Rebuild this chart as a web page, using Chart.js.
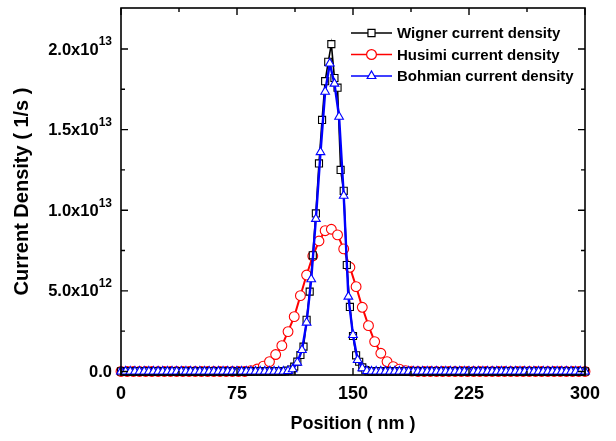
<!DOCTYPE html>
<html>
<head>
<meta charset="utf-8">
<script src="https://cdn.jsdelivr.net/npm/chart.js@4.4.0/dist/chart.umd.min.js"></script>
<style>
  html, body { margin: 0; padding: 0; background: #fff; }
  #wrap { width: 616px; height: 441px; position: relative; }
</style>
</head>
<body>
<div id="wrap"><canvas id="chart" width="616" height="441"></canvas></div>
<script>
// position in nm, current density in units of 1e12 (1/s)
const xTicks = [0, 75, 150, 225, 300];
const yTicks = [0, 5, 10, 15, 20];
const yMin = -0.22, yMax = 22.54;

// sampling step of each curve (nm); outside the peak window the value is 0
const wignerStep = 2;
const wignerPeakX = [108, 110, 112, 114, 116, 118, 120, 122, 124, 126, 128, 130, 132, 134, 136,
                     138, 140, 142, 144, 146, 148, 150, 152, 154, 156, 158];
const wignerPeakY = [0.05, 0.12, 0.3, 0.61, 1.02, 1.54, 3.2, 4.95, 7.2, 9.8, 12.9, 15.6, 18.0, 19.2, 20.3,
                     18.2, 17.6, 12.5, 11.2, 6.6, 4.0, 2.2, 1.0, 0.6, 0.25, 0.08];

const husimiStep = 4;
const husimiPeakX = [84, 88, 92, 96, 100, 104, 108, 112, 116, 120, 124, 128, 132, 136,
                     140, 144, 148, 152, 156, 160, 164, 168, 172, 176, 180, 184, 188];
const husimiPeakY = [0.05, 0.15, 0.33, 0.61, 1.05, 1.6, 2.47, 3.4, 4.7, 5.98, 7.16, 8.09, 8.73, 8.82,
                     8.47, 7.6, 6.46, 5.26, 3.98, 2.84, 1.85, 1.13, 0.61, 0.3, 0.14, 0.05, 0.02];

const bohmStep = 3;
const bohmPeakX = [108, 111, 114, 117, 120, 123, 126, 129, 132, 135, 138, 141, 144, 147, 150, 153, 156, 159];
const bohmPeakY = [0.03, 0.14, 0.55, 1.33, 3.03, 5.72, 9.46, 13.6, 17.35, 19.1, 17.85, 15.8, 10.9, 4.64,
                   2.26, 0.71, 0.2, 0.03];

const labels = ['Wigner current density', 'Husimi current density', 'Bohmian current density'];

function series(step, peakX, peakY) {
  const pts = [];
  for (let x = 0; x <= 300; x += step) {
    const i = peakX.indexOf(x);
    pts.push({ x: x, y: i >= 0 ? peakY[i] : 0 });
  }
  return pts;
}

function fmtY(v) {
  if (v === 0) return { main: '0.0', sup: '' };
  const real = v * 1e12;
  const exp = Math.floor(Math.log10(real));
  return { main: (real / Math.pow(10, exp)).toFixed(1) + 'x10', sup: String(exp) };
}

const frame = {
  id: 'frame',
  afterDatasetsDraw(chart) {
    const { ctx, chartArea: a, scales: { x, y } } = chart;
    ctx.save();
    ctx.strokeStyle = '#000';
    ctx.lineWidth = 1.6;
    ctx.strokeRect(a.left, a.top, a.right - a.left, a.bottom - a.top);

    // inward ticks on all four sides
    ctx.lineWidth = 1.4;
    ctx.beginPath();
    xTicks.forEach((t, i) => {
      const px = x.getPixelForValue(t);
      ctx.moveTo(px, a.bottom); ctx.lineTo(px, a.bottom - 7);
      ctx.moveTo(px, a.top); ctx.lineTo(px, a.top + 7);
      if (i < xTicks.length - 1) {
        const mx = x.getPixelForValue((t + xTicks[i + 1]) / 2);
        ctx.moveTo(mx, a.bottom); ctx.lineTo(mx, a.bottom - 4);
        ctx.moveTo(mx, a.top); ctx.lineTo(mx, a.top + 4);
      }
    });
    yTicks.forEach((t, i) => {
      const py = y.getPixelForValue(t);
      ctx.moveTo(a.left, py); ctx.lineTo(a.left + 7, py);
      ctx.moveTo(a.right, py); ctx.lineTo(a.right - 7, py);
      if (i < yTicks.length - 1) {
        const my = y.getPixelForValue((t + yTicks[i + 1]) / 2);
        ctx.moveTo(a.left, my); ctx.lineTo(a.left + 4, my);
        ctx.moveTo(a.right, my); ctx.lineTo(a.right - 4, my);
      }
    });
    ctx.stroke();

    ctx.fillStyle = '#000';
    // x tick labels
    ctx.font = 'bold 18px "Liberation Sans", Arial, sans-serif';
    ctx.textAlign = 'center';
    ctx.textBaseline = 'middle';
    xTicks.forEach(t => ctx.fillText(String(t), x.getPixelForValue(t), 394));

    // y tick labels with superscript exponent
    yTicks.forEach(t => {
      const py = y.getPixelForValue(t);
      const f = fmtY(t);
      ctx.textAlign = 'right';
      let right = 112;
      if (f.sup) {
        ctx.font = 'bold 12px "Liberation Sans", Arial, sans-serif';
        ctx.fillText(f.sup, right, py - 7);
        right -= ctx.measureText(f.sup).width;
      }
      ctx.font = 'bold 16.5px "Liberation Sans", Arial, sans-serif';
      ctx.fillText(f.main, right, py + 1);
    });

    // axis titles
    ctx.font = 'bold 18px "Liberation Sans", Arial, sans-serif';
    ctx.textAlign = 'center';
    ctx.fillText('Position ( nm )', (a.left + a.right) / 2, 424);
    ctx.save();
    ctx.translate(22, (a.top + a.bottom) / 2);
    ctx.rotate(-Math.PI / 2);
    ctx.font = 'bold 20px "Liberation Sans", Arial, sans-serif';
    ctx.fillText('Current Density ( 1/s )', 0, 0);
    ctx.restore();

    // legend: line - marker - line, then label
    chart.data.datasets.forEach((ds, i) => {
      const ly = 33 + i * 21.5;
      ctx.strokeStyle = ds.borderColor;
      ctx.lineWidth = 1.6;
      ctx.beginPath();
      ctx.moveTo(351, ly); ctx.lineTo(392, ly);
      ctx.stroke();
      ctx.fillStyle = '#fff';
      ctx.lineWidth = 1.2;
      Chart.helpers.drawPoint(ctx, { pointStyle: ds.pointStyle, radius: ds.pointRadius, rotation: 0, borderWidth: 1.2 }, 371.5, ly);
      ctx.fillStyle = '#000';
      ctx.font = 'bold 15px "Liberation Sans", Arial, sans-serif';
      ctx.textAlign = 'left';
      ctx.fillText(ds.label, 397, ly + 1);
    });
    ctx.restore();
  }
};

new Chart(document.getElementById('chart'), {
  type: 'line',
  data: {
    datasets: [
      {
        label: labels[0], data: series(wignerStep, wignerPeakX, wignerPeakY),
        borderColor: '#000', borderWidth: 1.6, pointStyle: 'rect', pointRadius: 5,
        pointBackgroundColor: '#fff', pointBorderColor: '#000', pointBorderWidth: 1.1, order: 2
      },
      {
        label: labels[1], data: series(husimiStep, husimiPeakX, husimiPeakY),
        borderColor: '#ff0000', borderWidth: 2, pointStyle: 'circle', pointRadius: 4.9,
        pointBackgroundColor: '#fff', pointBorderColor: '#ff0000', pointBorderWidth: 1.1, order: 3
      },
      {
        label: labels[2], data: series(bohmStep, bohmPeakX, bohmPeakY),
        borderColor: '#0000ff', borderWidth: 2.4, pointStyle: 'triangle', pointRadius: 5,
        pointBackgroundColor: '#fff', pointBorderColor: '#0000ff', pointBorderWidth: 1.1, order: 1
      }
    ]
  },
  options: {
    responsive: false,
    animation: false,
    devicePixelRatio: 1,
    layout: { padding: { left: 121, right: 31, top: 8, bottom: 66 } },
    datasets: { line: { tension: 0, clip: false } },
    scales: {
      x: { type: 'linear', display: false, min: 0, max: 300 },
      y: { type: 'linear', display: false, min: yMin, max: yMax }
    },
    plugins: { legend: { display: false }, tooltip: { enabled: false } }
  },
  plugins: [frame]
});
</script>
</body>
</html>
